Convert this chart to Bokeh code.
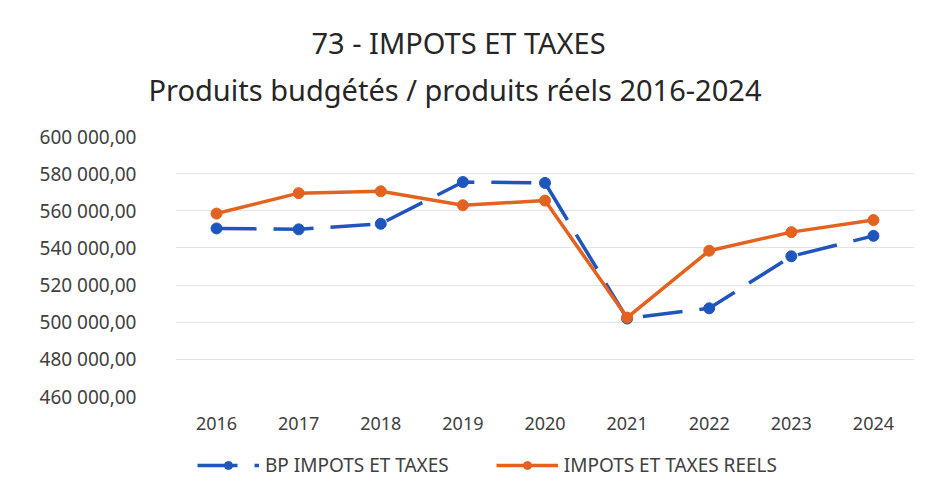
from bokeh.plotting import figure
from bokeh.layouts import column
from bokeh.models import ColumnDataSource, Title, Legend, LegendItem, CustomJSTickFormatter, FixedTicker
from bokeh.embed import file_html
from bokeh.resources import INLINE

years = ["2016", "2017", "2018", "2019", "2020", "2021", "2022", "2023", "2024"]
bp_impots = [550500, 550000, 553000, 575500, 575000, 502000, 507500, 535500, 546500]
reels_impots = [558500, 569500, 570500, 563000, 565500, 502500, 538500, 548500, 555000]
y_ticks = [460000, 480000, 500000, 520000, 540000, 560000, 580000, 600000]

title_line1 = "73 - IMPOTS ET TAXES"
title_line2 = "Produits budgétés / produits réels 2016-2024"
name_bp = "BP IMPOTS ET TAXES"
name_reel = "IMPOTS ET TAXES REELS"

BLUE = "#1f56be"
ORANGE = "#e4621f"
FONT = "Noto Sans"

src = ColumnDataSource(dict(x=years, bp=bp_impots, reel=reels_impots))

p = figure(width=932, height=440, x_range=years, y_range=(460000, 600000),
           output_backend="svg", toolbar_location=None,
           min_border_left=175, min_border_right=18, min_border_top=136, min_border_bottom=44)
p.outline_line_color = None
p.background_fill_color = "white"
p.border_fill_color = "white"

t2 = Title(text=title_line2, align="left", text_font=FONT, text_font_size="29px",
           text_font_style="normal", text_color="#262626", offset=-27, standoff=55)
t1 = Title(text=title_line1, align="left", text_font=FONT, text_font_size="29px",
           text_font_style="normal", text_color="#262626", offset=136, standoff=-42)
p.add_layout(t2, "above")
p.add_layout(t1, "above")

line_kw = dict(line_width=3.5)
p.line("x", "bp", source=src, line_color=BLUE, line_dash="40 17", **line_kw)
p.scatter("x", "bp", source=src, size=11, fill_color=BLUE, line_color=BLUE)
p.line("x", "reel", source=src, line_color=ORANGE, **line_kw)
p.scatter("x", "reel", source=src, size=11, fill_color=ORANGE, line_color=ORANGE)

p.yaxis.ticker = FixedTicker(ticks=y_ticks)
p.yaxis.formatter = CustomJSTickFormatter(code="""
    const s = Math.round(tick).toString();
    const parts = [];
    for (let i = s.length; i > 0; i -= 3) parts.unshift(s.substring(Math.max(0, i - 3), i));
    return parts.join(' ') + ',00';
""")
for ax in (p.xaxis[0], p.yaxis[0]):
    ax.axis_line_color = None
    ax.major_tick_line_color = None
    ax.minor_tick_line_color = None
    ax.major_label_text_font = FONT
    ax.major_label_text_color = "#404040"
p.yaxis.major_label_text_font_size = "19px"
p.xaxis.major_label_text_font_size = "18px"
p.yaxis.major_label_standoff = 33
p.xaxis.major_label_standoff = 14

p.xgrid.grid_line_color = None
p.ygrid.grid_line_color = "#e3e3e3"
p.ygrid.grid_line_width = 1

# legend strip: same series, drawn out of view, only their legend glyphs show
q = figure(width=932, height=47, x_range=years, y_range=(0, 1),
           output_backend="svg", toolbar_location=None,
           min_border_left=0, min_border_right=0, min_border_top=0, min_border_bottom=0)
q.axis.visible = False
q.grid.visible = False
q.outline_line_color = None
q.border_fill_color = "white"
ql_bp = q.line("x", "bp", source=src, line_color=BLUE, line_dash="40 17", **line_kw)
qc_bp = q.scatter("x", "bp", source=src, size=11, fill_color=BLUE, line_color=BLUE)
ql_re = q.line("x", "reel", source=src, line_color=ORANGE, **line_kw)
qc_re = q.scatter("x", "reel", source=src, size=11, fill_color=ORANGE, line_color=ORANGE)

legend = Legend(items=[LegendItem(label=name_bp, renderers=[ql_bp, qc_bp]),
                       LegendItem(label=name_reel, renderers=[ql_re, qc_re])],
                orientation="horizontal", location=(22, 9), margin=0, padding=0,
                label_text_font=FONT, label_text_font_size="19px", label_text_color="#404040",
                glyph_width=62, label_standoff=6, spacing=47,
                border_line_color=None, background_fill_alpha=0)
q.add_layout(legend, "center")

layout = column(p, q, spacing=0)
open("out.html", "w").write(file_html(layout, INLINE))
